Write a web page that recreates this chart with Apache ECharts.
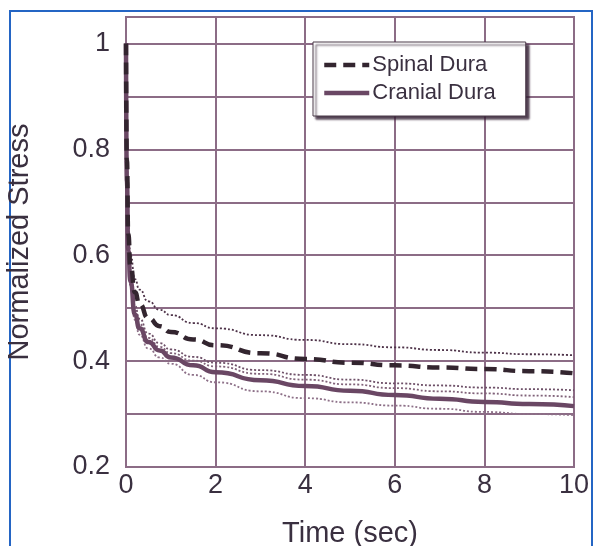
<!DOCTYPE html>
<html>
<head>
<meta charset="utf-8">
<script src="https://cdn.jsdelivr.net/npm/echarts@6/dist/echarts.min.js"></script>
<style>html,body{margin:0;padding:0;background:#fff}#c{width:595px;height:546px}</style>
</head>
<body>
<div id="c"></div>
<script>
// Data
var times = [0, 0.02, 0.05, 0.1, 0.2, 0.3, 0.5, 0.75, 1, 1.5, 2, 3, 4, 5, 6, 7, 8, 9, 10];
var spinalUpper  = [1.0, 0.80, 0.66, 0.60, 0.555, 0.535, 0.513, 0.497, 0.487, 0.472, 0.462, 0.449, 0.440, 0.432, 0.426, 0.421, 0.416, 0.413, 0.411];
var spinalMean   = [1.0, 0.78, 0.64, 0.58, 0.53, 0.508, 0.481, 0.466, 0.455, 0.441, 0.430, 0.415, 0.404, 0.397, 0.392, 0.388, 0.385, 0.381, 0.377];
var spinalLower  = [1.0, 0.76, 0.62, 0.565, 0.505, 0.48, 0.452, 0.434, 0.422, 0.408, 0.397, 0.383, 0.374, 0.365, 0.358, 0.354, 0.350, 0.347, 0.345];
var cranialUpper = [1.0, 0.75, 0.615, 0.555, 0.495, 0.47, 0.444, 0.427, 0.415, 0.401, 0.39, 0.376, 0.365, 0.356, 0.349, 0.343, 0.339, 0.335, 0.332];
var cranialMean  = [1.0, 0.74, 0.61, 0.55, 0.488, 0.462, 0.436, 0.42, 0.407, 0.392, 0.379, 0.364, 0.353, 0.344, 0.336, 0.329, 0.323, 0.319, 0.315];
var cranialLower = [1.0, 0.73, 0.60, 0.54, 0.478, 0.45, 0.424, 0.407, 0.395, 0.374, 0.36, 0.343, 0.330, 0.322, 0.316, 0.310, 0.304, 0.300, 0.298];
var seriesNames = ['Spinal Dura', 'Cranial Dura'];
var xTicks = [0, 2, 4, 6, 8, 10];
var yTicks = [0.2, 0.4, 0.6, 0.8, 1];

function pairs(ys) { return times.map(function (t, i) { return [t, ys[i]]; }); }

var gridColor = '#8c6c86';
var textColor = '#3a3040';
var font = 'Liberation Sans, Arial, sans-serif';
var smoothAmt = 0.6;

function thin(ys, color) {
  return {
    type: 'line', data: pairs(ys), symbol: 'none', smooth: smoothAmt, smoothMonotone: 'x',
    lineStyle: { color: color, width: 1.8, type: [2, 2] }, silent: true, z: 3
  };
}

var chart = echarts.init(document.getElementById('c'), null, { renderer: 'canvas' });
chart.setOption({
  backgroundColor: '#ffffff',
  animation: false,
  graphic: [{
    type: 'rect', z: 0, silent: true,
    shape: { x: 10, y: 11, width: 582, height: 560 },
    style: { fill: 'none', stroke: '#2465c4', lineWidth: 2 }
  }],
  grid: {
    left: 126, right: 21, top: 17, bottom: 79, containLabel: false, outerBoundsMode: 'none',
    show: true, borderColor: gridColor, borderWidth: 2
  },
  legend: {
    data: seriesNames,
    orient: 'vertical', left: 313, top: 42,
    backgroundColor: '#ffffff', borderColor: '#4a3a48', borderWidth: 1,
    shadowColor: 'rgba(50,30,50,0.85)', shadowOffsetX: 3, shadowOffsetY: 3, shadowBlur: 2,
    padding: [12, 30, 12, 9], itemGap: 6, itemWidth: 45, itemHeight: 14,
    itemStyle: { opacity: 0 },
    lineStyle: { width: 4.5 },
    textStyle: { fontSize: 22, color: textColor, fontFamily: font, padding: [0, 0, 0, -2] }
  },
  xAxis: {
    type: 'value', min: 0, max: 10, interval: 2,
    name: 'Time (sec)', nameLocation: 'middle', nameGap: 52,
    nameTextStyle: { fontSize: 29, color: textColor, fontFamily: font },
    axisLine: { show: true, lineStyle: { color: gridColor, width: 2 } },
    axisTick: { show: false },
    axisLabel: {
      fontSize: 27, color: textColor, fontFamily: font, margin: 5,
      formatter: function (v) { return xTicks.indexOf(v) >= 0 ? String(v) : ''; }
    },
    splitLine: { show: true, lineStyle: { color: gridColor, width: 2 } }
  },
  yAxis: {
    type: 'value', min: 0.2, max: 1.05, interval: 0.1,
    name: 'Normalized Stress', nameLocation: 'middle', nameGap: 92,
    nameTextStyle: { fontSize: 29, color: textColor, fontFamily: font },
    axisLine: { show: true, lineStyle: { color: gridColor, width: 2 } },
    axisTick: { show: false },
    axisLabel: {
      fontSize: 27, color: textColor, fontFamily: font, margin: 16,
      formatter: function (v) {
        for (var i = 0; i < yTicks.length; i++) {
          if (Math.abs(v - yTicks[i]) < 1e-6) return String(yTicks[i]);
        }
        return '';
      }
    },
    splitLine: { show: true, lineStyle: { color: gridColor, width: 2 } }
  },
  series: [
    thin(spinalUpper, '#4e3349'),
    thin(spinalLower, '#6e5068'),
    thin(cranialUpper, '#806279'),
    thin(cranialLower, '#8d7088'),
    {
      name: 'Spinal Dura', type: 'line', data: pairs(spinalMean), symbol: 'none',
      smooth: smoothAmt, smoothMonotone: 'x', z: 5,
      itemStyle: { color: '#33252f' },
      lineStyle: { color: '#33252f', width: 4.5, type: [12, 7] }
    },
    {
      name: 'Cranial Dura', type: 'line', data: pairs(cranialMean), symbol: 'none',
      smooth: smoothAmt, smoothMonotone: 'x', z: 4,
      itemStyle: { color: '#6a4764' },
      lineStyle: { color: '#6a4764', width: 4.5 }
    }
  ]
});
</script>
</body>
</html>
